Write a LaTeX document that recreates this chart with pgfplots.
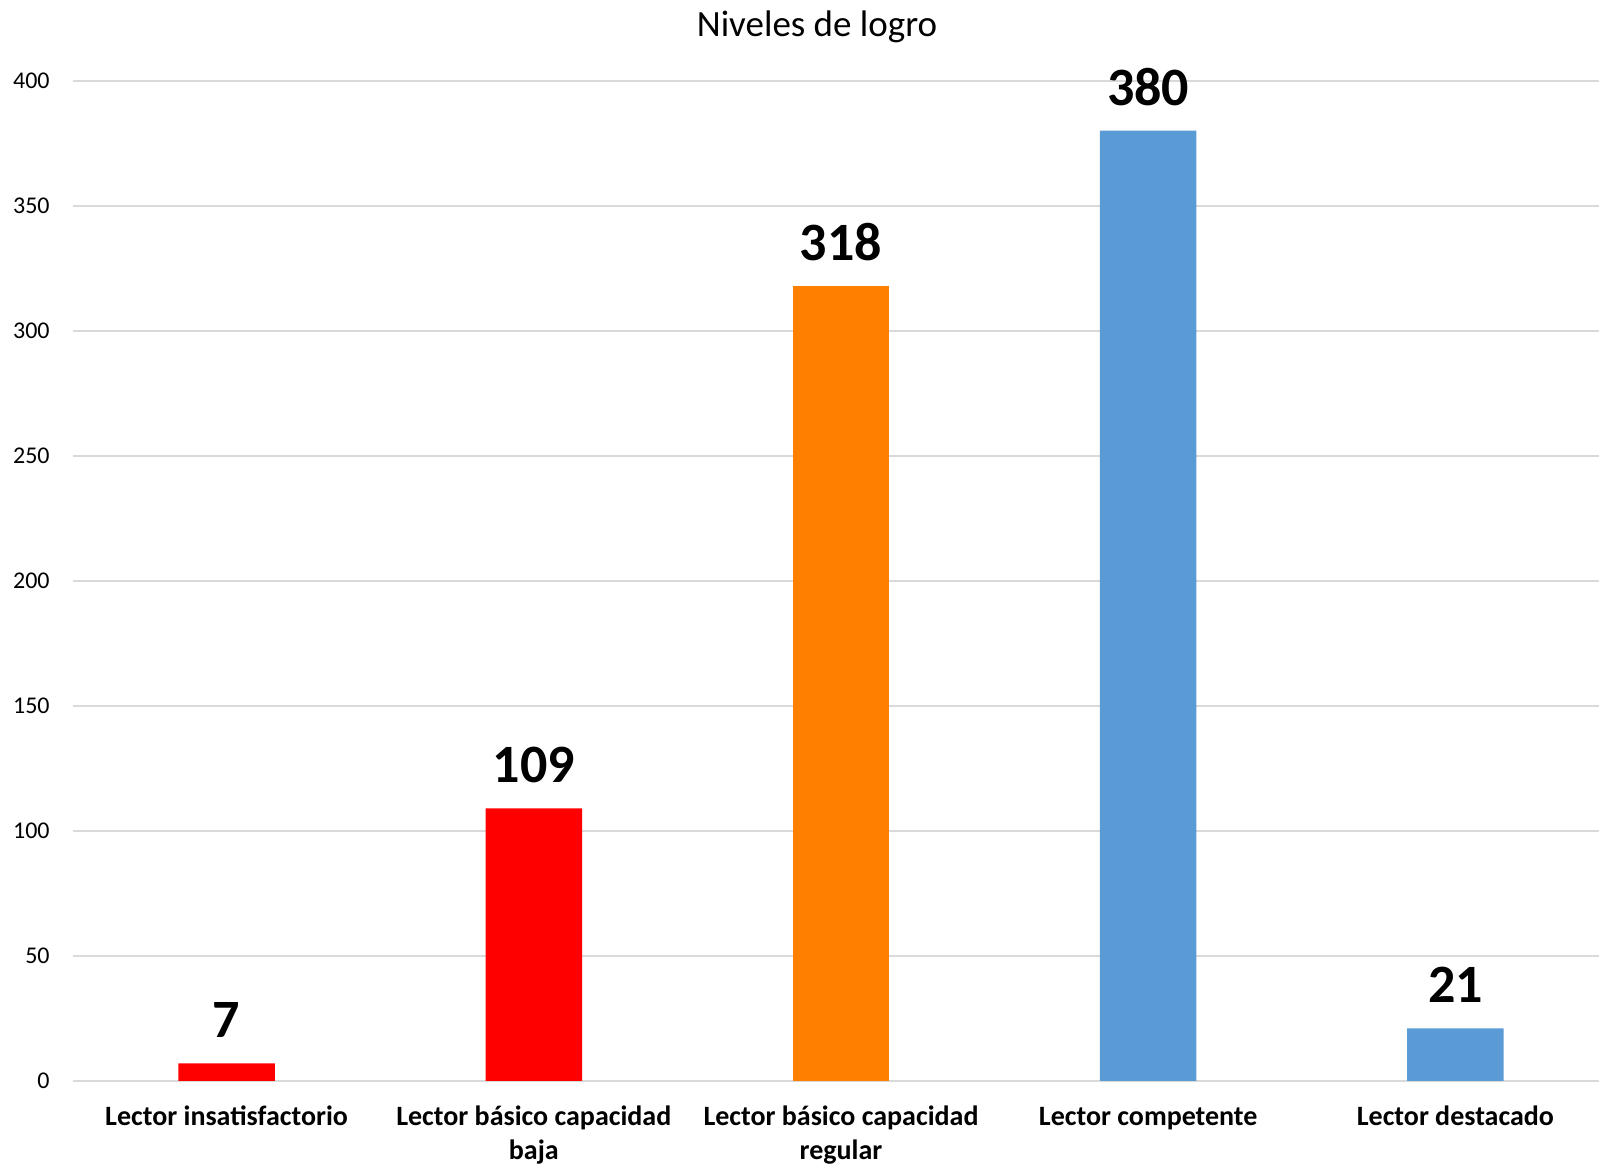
\documentclass[border=0pt]{standalone}
\usepackage{fontspec}
\setmainfont{Carlito}
\usepackage{pgfplots}
\pgfplotsset{compat=1.18}
\definecolor{barred}{HTML}{FF0000}
\definecolor{barorange}{HTML}{FF8000}
\definecolor{barblue}{HTML}{5B9BD5}
\definecolor{gridgray}{HTML}{D9D9D9}
\newcommand{\lh}{\rule{0pt}{11pt}}
\begin{document}
\begin{tikzpicture}
\useasboundingbox (0,0) rectangle (799.5pt,582.5pt);
\node[anchor=base, font=\fontsize{18.5}{20}\selectfont] at (408.5pt,564pt) {Niveles de logro};
\begin{axis}[
  at={(36.5pt,42pt)}, anchor=south west,
  scale only axis, width=763pt, height=500.2pt,
  xmin=-0.5, xmax=4.4675, ymin=0, ymax=400,
  ybar, bar width=48.25pt, bar shift=0pt,
  ytick={0,50,...,400},
  xtick={0,1,2,3,4},
  xticklabels={\lh Lector insatisfactorio, \lh Lector básico capacidad\\baja, \lh Lector básico capacidad\\regular, \lh Lector competente, \lh Lector destacado},
  xticklabel style={font=\fontsize{14}{17}\selectfont\bfseries, align=center, anchor=north, inner sep=0pt, yshift=-11pt},
  yticklabel style={font=\fontsize{12}{14}\selectfont, anchor=east, inner sep=0pt, xshift=-11.5pt},
  /pgf/number format/assume math mode=true,
  axis line style={draw=none},
  major tick length=0pt,
  ymajorgrids, grid style={draw=gridgray, line width=1pt},
  clip=false,
  nodes near coords,
  every node near coord/.append style={font=\fontsize{27}{30}\selectfont\bfseries, anchor=base, yshift=12.75pt, inner sep=0pt, text=black},
]
\addplot[fill=barred, draw=none] coordinates {(0,7) (1,109)};
\addplot[fill=barorange, draw=none] coordinates {(2,318)};
\addplot[fill=barblue, draw=none] coordinates {(3,380) (4,21)};
\end{axis}
\end{tikzpicture}
\end{document}
